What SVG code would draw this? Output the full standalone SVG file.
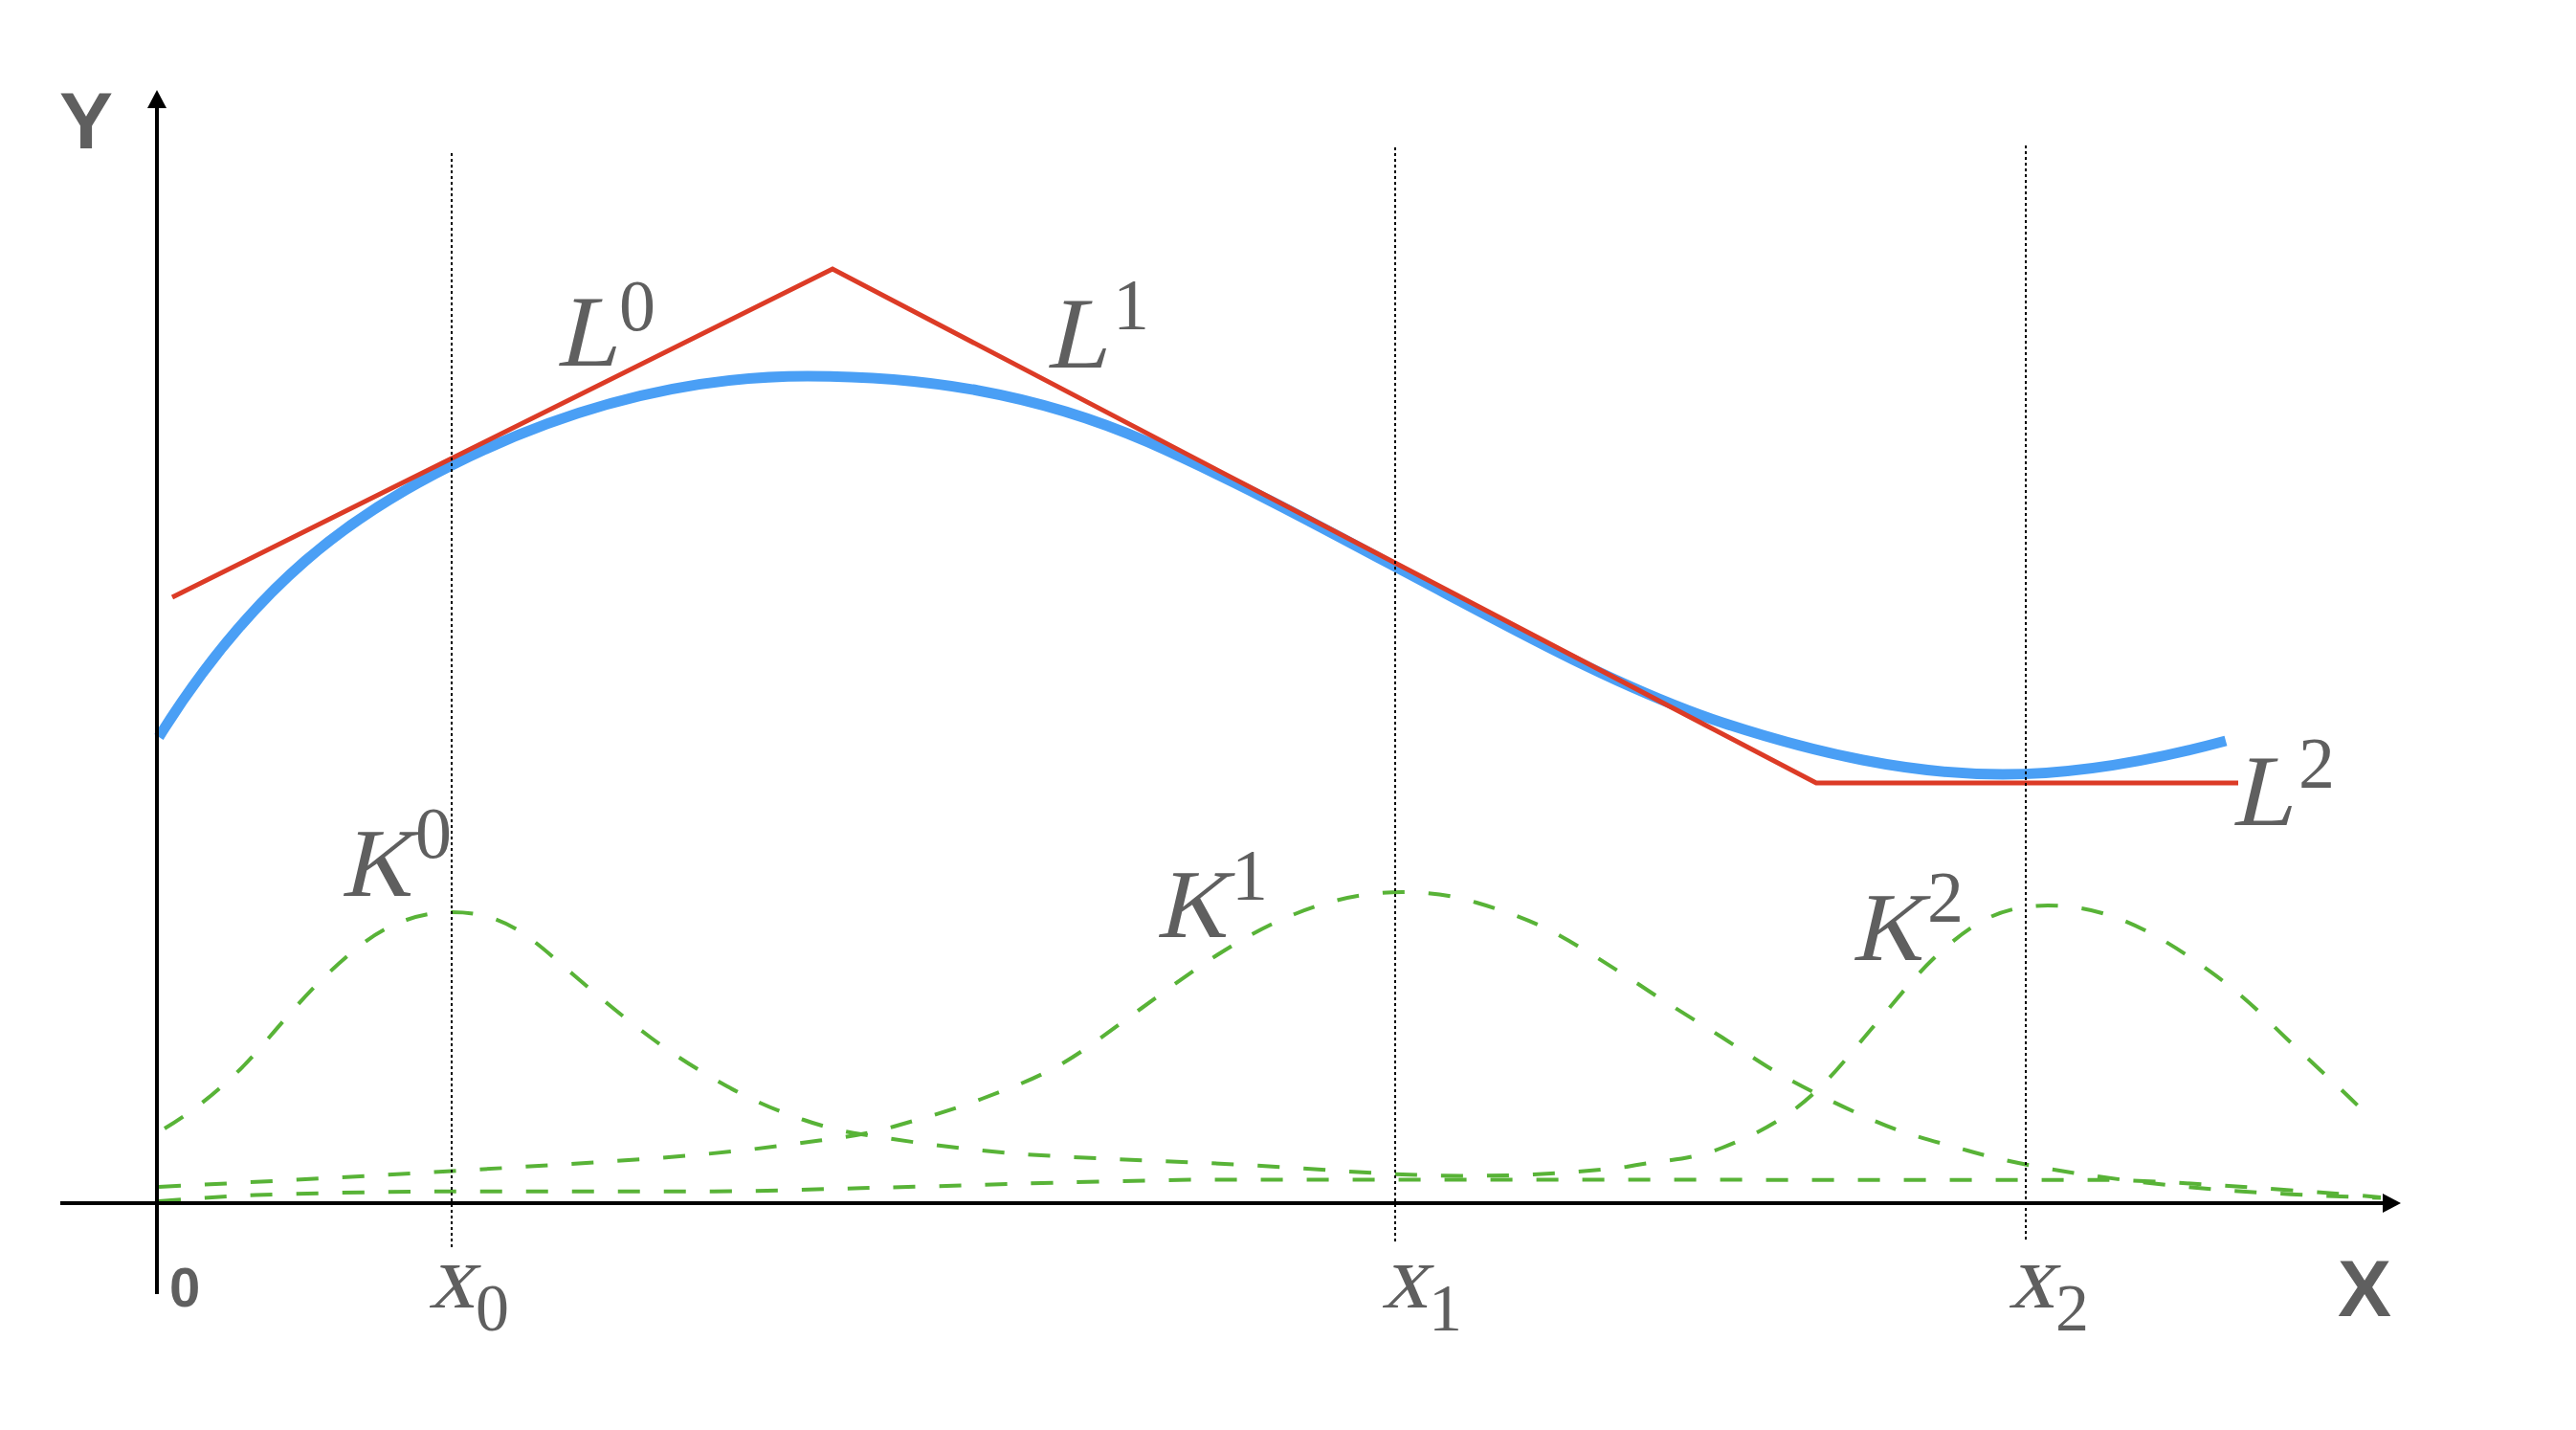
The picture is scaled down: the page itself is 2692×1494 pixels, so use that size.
<svg xmlns="http://www.w3.org/2000/svg" width="2692" height="1494" viewBox="0 0 2692 1494">
<style>
.axis{stroke:#000;stroke-width:4;fill:none}
.guide{stroke:#000;stroke-width:2;stroke-dasharray:3 3;fill:none}
.fit{stroke:#4a9ff5;stroke-width:11;fill:none}
.lin{stroke:#dc3b26;stroke-width:5;fill:none;stroke-linejoin:miter}
.kern{stroke:#58b337;stroke-width:4;fill:none;stroke-dasharray:23 25}
.it{fill:#5f5f5f;font-family:'Liberation Serif','Times New Roman',serif;font-style:normal}
.dg{fill:#5f5f5f;font-family:'Liberation Serif','Times New Roman',serif}
.ax{fill:#5f5f5f;font-family:'Liberation Sans',Arial,sans-serif;font-weight:bold}
</style>
<defs>
<marker id="arrow" markerUnits="userSpaceOnUse" viewBox="0 0 19 20" markerWidth="19" markerHeight="20" refX="0" refY="10" orient="auto">
<path d="M0,0 L19,10 L0,20 z" fill="#000"/>
</marker>
</defs>
<rect width="2692" height="1494" fill="#fff"/>

<g id="kernels">
<path id="K0-path" class="kern" d="M172,1179 C197,1164 222,1145 247,1121 C268,1101 289,1074 310,1051 C333,1025 357,1003 380,985 C395,974 410,966 425,961 C441,955.5 456,953 472,953 C495,953 517,957 540,971 C560,983 580,1002 600,1019 C627,1042 653,1064 680,1084 C707,1104 733,1120 760,1135 C787,1150 813,1161 840,1170 C860,1177 880,1182 900,1185 C957,1194 1015,1202 1072,1206 C1148,1211 1224,1213 1300,1217 C1377,1221 1453,1228.5 1530,1228.5 C1587,1228.5 1643,1226 1700,1219 C1733,1212.3 1767,1212.3 1800,1199 C1833,1186 1867,1170 1900,1138 C1920,1119 1940,1093 1960,1070 C1980,1047 2000,1021 2020,1002 C2040,983 2060,967 2080,958 C2100,949 2120,946 2140,946 C2167,946 2193,951 2220,962 C2247,973 2273,989 2300,1008 C2323,1024 2347,1043 2370,1066 C2404,1100 2437,1128 2471,1162"/>
<path id="K1-path" class="kern" d="M166,1240 C327,1232 488,1223 649,1212.6 C712,1208.5 775,1203 838,1194 C870,1189.5 902,1186.6 934,1177 C965,1168 995,1160 1026,1148 C1055,1137 1083,1127 1112,1110 C1139,1094 1165,1073 1192,1054 C1218,1035 1244,1016 1270,999 C1298,981 1325,966 1353,955 C1390,940 1428,932 1465,932 C1491,932 1517,935 1543,943 C1572,951.6 1600,961 1629,977 C1658,993 1686,1011 1715,1030 C1743,1049 1772,1066 1800,1084 C1825,1100 1849,1117 1874,1130 C1902,1145 1931,1159 1959,1171 C1991,1185 2024,1193 2056,1202 C2094,1213 2133,1220 2171,1226 C2218,1233 2266,1238.7 2313,1242.5 C2371,1247 2430,1249.7 2488,1251.5"/>
<path id="K2-path" class="kern" d="M166,1255 C200,1252.5 230,1250 267,1248.5 C330,1246.5 400,1245 462,1244.7 L746,1244.7 C800,1244.5 850,1242.5 900,1241.3 C1000,1239 1100,1235 1244,1232.5 L2200,1232.7 C2240,1233 2300,1237 2380,1242.5 C2430,1246 2460,1248.5 2488,1251"/>
</g>

<g id="fit-curve">
<path class="fit" d="M166,770 C268,607 370,537 472,486 C596,424 720,393 844,393 C963,393 1081,410 1200,462 C1286,500 1372,546 1458,592 C1572,652 1686,717 1800,755 C1898,787 1995,809 2093,809 C2171,809 2248,795 2326,774"/>
</g>

<g id="linear-pieces">
<polyline class="lin" points="180,624 870,281 1898,818 2339,818"/>
</g>

<g id="axes">
<line class="axis" x1="63" y1="1257" x2="2490" y2="1257" marker-end="url(#arrow)"/>
<line class="axis" x1="164" y1="1352" x2="164" y2="113" stroke-width="3.5" marker-end="url(#arrow)"/>
</g>

<g id="guides">
<line class="guide" x1="472" y1="160" x2="472" y2="1306"/>
<line class="guide" x1="1458" y1="154" x2="1458" y2="1299"/>
<line class="guide" x1="2117" y1="152" x2="2117" y2="1297"/>
</g>

<g id="labels">
<g id="label-Y"><text class="ax" x="62" y="155" font-size="84">Y</text></g>
<g id="label-X"><text class="ax" x="2443" y="1375" font-size="84">X</text></g>
<g id="label-origin"><text class="ax" x="177" y="1365" font-size="58">0</text></g>

<g id="label-L0"><text class="it" transform="translate(581,382) skewX(-13)" font-size="106">L</text><text class="dg" x="647" y="345" font-size="76">0</text></g>
<g id="label-L1"><text class="it" transform="translate(1093,384) skewX(-13)" font-size="106">L</text><text class="dg" x="1163" y="344" font-size="76">1</text></g>
<g id="label-L2"><text class="it" transform="translate(2332,862) skewX(-13)" font-size="106">L</text><text class="dg" x="2402" y="823" font-size="76">2</text></g>

<g id="label-K0"><text class="it" transform="translate(356,936) skewX(-13)" font-size="102">K</text><text class="dg" x="434" y="896" font-size="76">0</text></g>
<g id="label-K1"><text class="it" transform="translate(1208,979) skewX(-13)" font-size="102">K</text><text class="dg" x="1287" y="940" font-size="76">1</text></g>
<g id="label-K2"><text class="it" transform="translate(1935,1003) skewX(-13)" font-size="102">K</text><text class="dg" x="2014" y="963" font-size="76">2</text></g>

<g id="label-x0"><text class="it" transform="translate(448,1366) skewX(-13)" font-size="96">x</text><text class="dg" x="497" y="1390" font-size="70">0</text></g>
<g id="label-x1"><text class="it" transform="translate(1444,1366) skewX(-13)" font-size="96">x</text><text class="dg" x="1493" y="1390" font-size="70">1</text></g>
<g id="label-x2"><text class="it" transform="translate(2099,1366) skewX(-13)" font-size="96">x</text><text class="dg" x="2148" y="1390" font-size="70">2</text></g>
</g>
</svg>
